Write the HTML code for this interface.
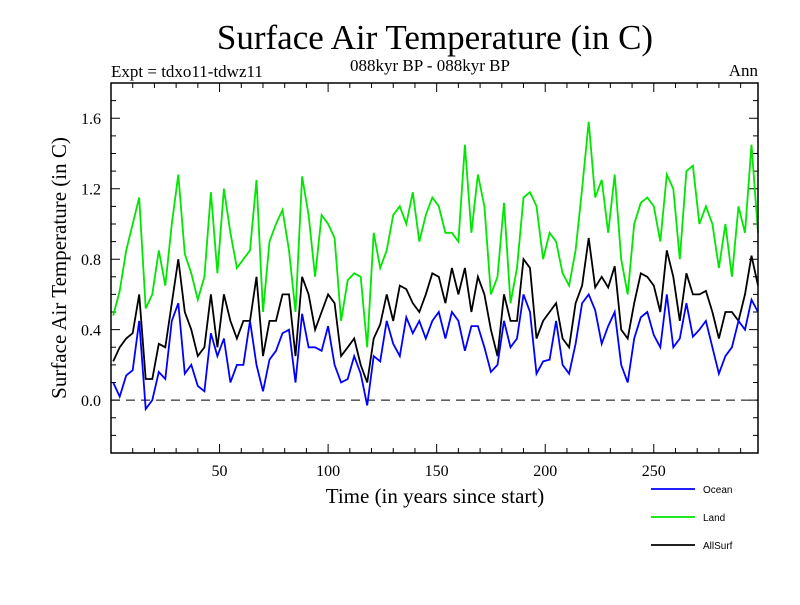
<!DOCTYPE html>
<html><head><meta charset="utf-8"><style>
body{margin:0;background:#fff}
svg text{font-family:"Liberation Serif",serif}
</style></head><body>
<svg id="chart" width="800" height="600" xmlns="http://www.w3.org/2000/svg">
<rect width="800" height="600" fill="#fff"/>
<text x="435" y="49" font-size="35" text-anchor="middle">Surface Air Temperature (in C)</text>
<text x="111" y="77" font-size="17">Expt = tdxo11-tdwz11</text>
<text x="430" y="71" font-size="17" text-anchor="middle">088kyr BP - 088kyr BP</text>
<text x="758" y="76" font-size="17" text-anchor="end">Ann</text>
<text transform="translate(66,268) rotate(-90)" font-size="21" text-anchor="middle">Surface Air Temperature (in C)</text>
<text x="435" y="503" font-size="21" text-anchor="middle">Time (in years since start)</text>
<g id="axes"></g>
<g id="series"></g>
<rect x="111" y="83" width="647" height="370" fill="none" stroke="#000" stroke-width="1.5"/>
<g id="legend"></g>
</svg>
<script>
const years=[1,4,7,10,13,16,19,22,25,28,31,34,37,40,43,46,49,52,55,58,61,64,67,70,73,76,79,82,85,88,91,94,97,100,103,106,109,112,115,118,121,124,127,130,133,136,139,142,145,148,151,154,157,160,163,166,169,172,175,178,181,184,187,190,193,196,199,202,205,208,211,214,217,220,223,226,229,232,235,238,241,244,247,250,253,256,259,262,265,268,271,274,277,280,283,286,289,292,295,298];
const landValues=[0.48,0.62,0.85,1.0,1.15,0.52,0.6,0.85,0.65,1.0,1.28,0.83,0.72,0.57,0.7,1.18,0.72,1.2,0.95,0.75,0.8,0.85,1.25,0.5,0.9,1.0,1.08,0.85,0.5,1.27,1.05,0.7,1.05,1.0,0.92,0.45,0.68,0.72,0.7,0.3,0.95,0.75,0.85,1.05,1.1,1.0,1.18,0.9,1.05,1.15,1.1,0.95,0.95,0.9,1.45,0.95,1.28,1.1,0.6,0.7,1.12,0.55,0.75,1.15,1.18,1.1,0.8,0.95,0.9,0.72,0.65,0.85,1.2,1.58,1.15,1.25,0.95,1.28,0.8,0.6,1.0,1.12,1.15,1.1,0.9,1.28,1.2,0.8,1.3,1.33,1.0,1.1,1.0,0.75,1.0,0.7,1.1,0.95,1.45,0.95];
const allSurfValues=[0.22,0.3,0.35,0.38,0.6,0.12,0.12,0.32,0.3,0.55,0.8,0.5,0.4,0.25,0.3,0.6,0.3,0.6,0.45,0.35,0.45,0.45,0.7,0.25,0.45,0.45,0.6,0.6,0.25,0.7,0.6,0.4,0.5,0.6,0.55,0.25,0.3,0.35,0.2,0.1,0.35,0.43,0.6,0.45,0.65,0.63,0.55,0.5,0.6,0.72,0.7,0.55,0.75,0.6,0.75,0.5,0.7,0.6,0.4,0.25,0.6,0.45,0.45,0.8,0.75,0.35,0.45,0.5,0.55,0.35,0.3,0.55,0.65,0.92,0.64,0.7,0.64,0.76,0.4,0.35,0.55,0.72,0.7,0.65,0.5,0.85,0.7,0.45,0.72,0.6,0.6,0.62,0.5,0.35,0.5,0.5,0.45,0.6,0.82,0.65];
const oceanValues=[0.1,0.02,0.14,0.17,0.45,-0.05,0.0,0.16,0.12,0.45,0.55,0.15,0.2,0.08,0.05,0.38,0.25,0.35,0.1,0.2,0.2,0.45,0.2,0.05,0.23,0.28,0.38,0.4,0.1,0.49,0.3,0.3,0.28,0.42,0.2,0.1,0.12,0.25,0.15,-0.03,0.25,0.22,0.45,0.32,0.25,0.47,0.38,0.45,0.35,0.45,0.5,0.35,0.5,0.45,0.28,0.42,0.42,0.3,0.16,0.2,0.45,0.3,0.35,0.6,0.5,0.15,0.22,0.23,0.45,0.2,0.15,0.32,0.55,0.6,0.51,0.32,0.42,0.5,0.2,0.1,0.35,0.47,0.5,0.37,0.3,0.6,0.3,0.35,0.55,0.36,0.4,0.45,0.3,0.15,0.25,0.3,0.45,0.4,0.57,0.5];
const xTickLabels=[50,100,150,200,250];
const yTickLabels=[0.0,0.4,0.8,1.2,1.6];
const seriesNames=["Ocean","Land","AllSurf"];

const NS="http://www.w3.org/2000/svg";
const X0=111,X1=758,Y0=83,Y1=453,TMIN=0,TMAX=298,VMIN=-0.3,VMAX=1.8;
function xs(t){return X0+(t-TMIN)/(TMAX-TMIN)*(X1-X0);}
function ys(v){return Y1-(v-VMIN)/(VMAX-VMIN)*(Y1-Y0);}
function mk(tag,attrs,parent){const e=document.createElementNS(NS,tag);for(const k in attrs)e.setAttribute(k,attrs[k]);parent.appendChild(e);return e;}
const axes=document.getElementById('axes');
for(let t=10;t<TMAX;t+=10){
  const L=(t%50===0)?9:5;
  const tk=mk('path',{d:`M${xs(t)},${Y1}v${-L}M${xs(t)},${Y0}v${L}`,stroke:'#000','stroke-width':1},axes);
  
  
}
for(let i=-2;i<=17;i++){
  const v=i/10;const L=(i%4===0)?9:5;
  const tk=mk('path',{d:`M${X0},${ys(v)}h${L}M${X1},${ys(v)}h${-L}`,stroke:'#000','stroke-width':1},axes);
  
  
}
xTickLabels.forEach(t=>{
  const e=mk('text',{x:xs(t),y:476,'font-size':16,'text-anchor':'middle'},axes);e.textContent=t;
  
  
});
yTickLabels.forEach(v=>{
  const e=mk('text',{x:101,y:ys(v)+6,'font-size':16,'text-anchor':'end'},axes);e.textContent=v.toFixed(1);
  
  
});
const zl=mk('line',{x1:X0,x2:X1,y1:ys(0),y2:ys(0),stroke:'#000','stroke-width':1,'stroke-dasharray':'9,6'},axes);



const ser=document.getElementById('series');
const defs=[[landValues,'#00e600','land-line'],[allSurfValues,'#000','allsurf-line'],[oceanValues,'#0000ff','ocean-line']];
defs.forEach(([vals,col,name])=>{
  const d=vals.map((v,i)=>(i?'L':'M')+xs(years[i]).toFixed(1)+','+ys(v).toFixed(1)).join('');
  const p=mk('path',{d:d,fill:'none',stroke:col,'stroke-width':1.8,'stroke-linejoin':'miter'},ser);
  
  
});
const lg=document.getElementById('legend');
const lcol=['#0000ff','#00e600','#000'];
seriesNames.forEach((n,i)=>{
  const y=489+i*28;
  const l=mk('line',{x1:651,x2:695,y1:y,y2:y,stroke:lcol[i],'stroke-width':1.8},lg);
  
  
  const t=mk('text',{x:703,y:y+4,'font-size':10,style:'font-family:"Liberation Sans",sans-serif'},lg);t.textContent=n;
  
  
});
</script>
</body></html>
